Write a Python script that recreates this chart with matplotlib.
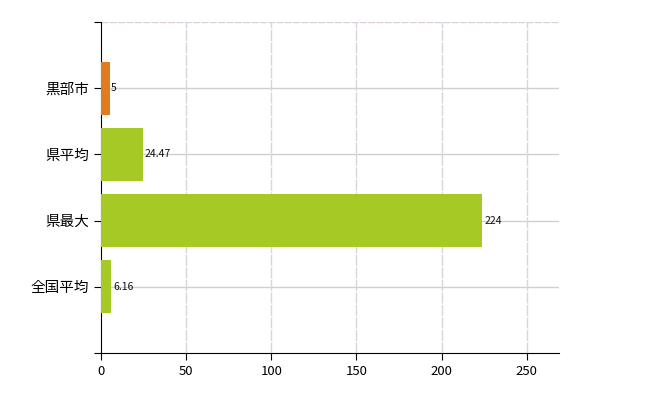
import matplotlib
matplotlib.use("Agg")
import matplotlib.pyplot as plt

plt.rcParams['font.family'] = ['Noto Sans CJK JP', 'DejaVu Sans']

# bottom to top
labels = ["全国平均", "県最大", "県平均", "黒部市"]
values = [6.16, 224, 24.47, 5]
value_text = ["6.16", "224", "24.47", "5"]
colors = ["#a6c925", "#a6c925", "#a6c925", "#e27a1f"]

fig = plt.figure(figsize=(6.5, 4), dpi=100)
ax = fig.add_axes([0.1554, 0.1175, 0.7046, 0.8275])

pos = [1, 2, 3, 4]
ax.barh(pos, values, height=0.8, color=colors, zorder=3)

for p, v, t in zip(pos, values, value_text):
    ax.text(v + 1, p, t, va="center", ha="left", fontsize=7.5, color="#111111", zorder=4)

ax.set_xlim(0, 269)
ax.set_ylim(0, 5)
ax.set_yticks([0, 1, 2, 3, 4, 5])
ax.set_yticklabels([""] + labels + [""], fontsize=10.5)
ax.set_xticks([0, 50, 100, 150, 200, 250])
ax.tick_params(axis="x", labelsize=9.5, length=5, color="black")
ax.tick_params(axis="y", length=5, color="black")

for y in [1, 2, 3, 4]:
    ax.axhline(y, color="#d0d0d0", linewidth=1, zorder=1)
ax.axhline(5, color="#dcd0dc", linewidth=1, linestyle=(0, (5, 1)), zorder=1)
for x in [50, 100, 150, 200, 250]:
    ax.axvline(x, color="#d8d6dc", linewidth=1, linestyle=(0, (8, 1)), zorder=1)

ax.spines["top"].set_visible(False)
ax.spines["right"].set_visible(False)
ax.spines["left"].set_color("black")
ax.spines["bottom"].set_color("black")

fig.savefig("out.png", dpi=100)
